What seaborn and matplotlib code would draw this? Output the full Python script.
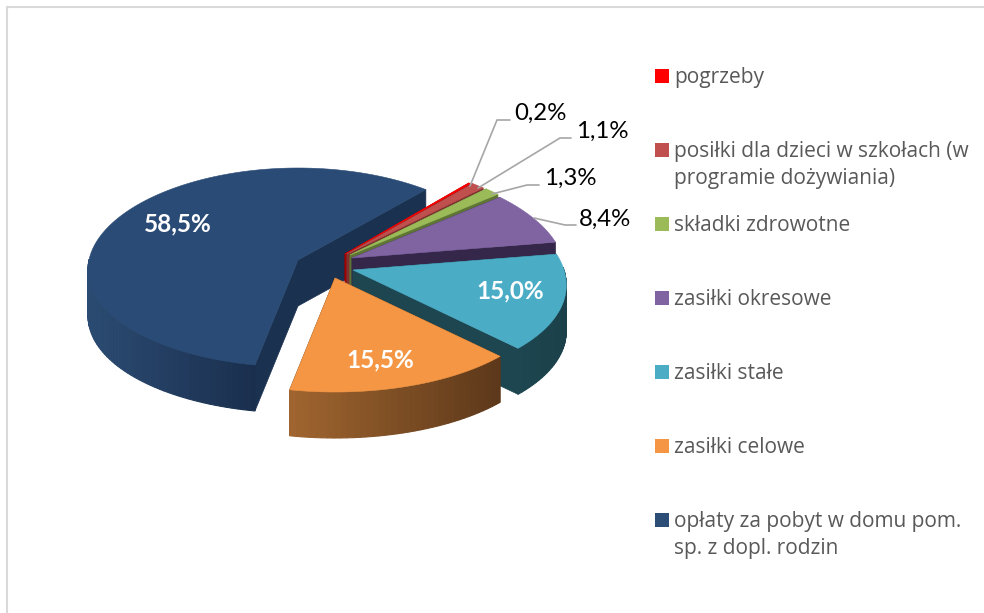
import numpy as np
import matplotlib
matplotlib.use("Agg")
import matplotlib.pyplot as plt
import seaborn as sns

categories = ["pogrzeby", "posiłki dla dzieci w szkołach (w\nprogramie dożywiania)",
              "składki zdrowotne", "zasiłki okresowe", "zasiłki stałe",
              "zasiłki celowe", "opłaty za pobyt w domu pom.\nsp. z dopl. rodzin"]
values = [0.2, 1.1, 1.3, 8.4, 15.0, 15.5, 58.5]

top_colors = ["#ff0000", "#c0504d", "#9bbb59", "#8064a2", "#4bacc6", "#f49644", "#2a4b75"]
face_colors = ["#a00000", "#7d3230", "#5f7533", "#35274a", "#1d4650", "#5e3a1b", "#1b3150"]
wall_left = ["#a00000", "#7d3230", "#5f7533", "#35274a", "#1d4650", "#a0652f", "#2b4b72"]
wall_right = ["#a00000", "#7d3230", "#5f7533", "#35274a", "#1b4049", "#5c381a", "#1a2f4e"]
apex_x = [345, 347, 350, 352, 353, 335, 298]
apex_y = [254, 254, 255, 258, 270, 278, 260]
radius_x = [211, 211, 211, 211, 211, 211, 209]
persp_x = [0.15, 0.15, 0.15, 0.15, 0.15, 0.15, 0.10]
radius_y = [103, 103, 103, 103, 103, 103, 99.5]
persp_y = [11, 11, 11, 11, 11, 11, 7.5]
paint_order = [6, 0, 1, 2, 3, 4, 5]

START_ANGLE = 48.6
DEPTH = 46.0

sns.set_theme(style="white")
plt.rcParams["font.family"] = ["Lato", "DejaVu Sans"]

fig = plt.figure(figsize=(9.84, 6.13), dpi=100)
ax = fig.add_axes([0, 0, 1, 1])
ax.set_xlim(0, 984)
ax.set_ylim(613, 0)
ax.axis("off")


def project(i, deg):
    """Perspective projection of a rim point of slice i, relative to its apex."""
    t = np.radians(deg)
    x, y = np.cos(t), np.sin(t)
    return (apex_x[i] + radius_x[i] * x * (1 - persp_x[i] * y),
            apex_y[i] - (radius_y[i] * y - persp_y[i] * y * y))


def mix(c1, c2, f):
    a, b = np.array(matplotlib.colors.to_rgb(c1)), np.array(matplotlib.colors.to_rgb(c2))
    return tuple(a + (b - a) * f)


ends = START_ANGLE - np.cumsum(values) * 3.6
starts = np.r_[START_ANGLE, ends[:-1]]

for z, i in enumerate(paint_order):
    th1, th2 = starts[i], ends[i]
    cx, cy = apex_x[i], apex_y[i]
    ths = np.linspace(th1, th2, 240)
    rx, ry = project(i, ths)
    z = z + 3

    # radial cut faces
    for end in (0, -1):
        ax.fill([cx, rx[end], rx[end], cx], [cy, ry[end], ry[end] + DEPTH, cy + DEPTH],
                color=face_colors[i], lw=0.5, zorder=z)

    # outer wall with a gradient along x, front-facing part only
    n = max(2, int(abs(th1 - th2) / 1.5))
    seg = np.linspace(th1, th2, n + 1)
    front = np.sin(np.radians(seg)) < 0.03
    sx, sy = project(i, seg)
    xmin, xmax = (87, 253) if i == 6 else (sx.min(), sx.max())
    for k in range(n):
        if not (front[k] and front[k + 1]):
            continue
        f = np.clip(((sx[k] + sx[k + 1]) / 2 - xmin) / max(xmax - xmin, 1), 0, 1)
        ax.fill([sx[k], sx[k + 1], sx[k + 1], sx[k]],
                [sy[k], sy[k + 1], sy[k + 1] + DEPTH, sy[k] + DEPTH],
                color=mix(wall_left[i], wall_right[i], f), lw=0.8, zorder=z)

    # top face
    ax.fill(np.r_[cx, rx], np.r_[cy, ry], color=top_colors[i], lw=0.4, zorder=z + 0.5)


def lab(v):
    return f"{v:.1f}%".replace(".", ",")


white_pos = {4: (510, 291), 5: (380, 360), 6: (178, 224)}
for i, (x, y) in white_pos.items():
    ax.text(x, y, lab(values[i]), color="white", fontsize=17.5, fontweight="bold",
            ha="center", va="center", zorder=20)

black_pos = {0: (540, 113), 1: (602, 131), 2: (570, 178), 3: (605, 219)}
for i, (x, y) in black_pos.items():
    ax.text(x, y, lab(values[i]), color="black", fontsize=17.3,
            ha="center", va="center", zorder=20)

leader_x = [[470, 497, 510], [478, 560, 571], [492, 527, 539], [534, 565, 576]]
leader_y = [[186, 120, 120], [188, 138, 138], [194, 185, 185], [218, 225, 225]]
for lx, ly in zip(leader_x, leader_y):
    ax.plot(lx, ly, color="#a6a6a6", lw=1.2, zorder=15, solid_joinstyle="miter")

for i, name in enumerate(categories):
    y = 76 + 74 * i
    ax.add_patch(plt.Rectangle((655, y - 7), 14, 14, color=top_colors[i] if i != 6 else "#2c4d75", lw=0, zorder=10))
    ax.text(674, y - 9, name, color="#595959", fontsize=15, family="Open Sans",
            ha="left", va="top", linespacing=1.38, zorder=10)

# chart frame: top and left edges only
ax.plot([7, 984], [6.5, 6.5], color="#d9d9d9", lw=1.5, zorder=1)
ax.plot([7, 7], [6.5, 613], color="#d9d9d9", lw=1.5, zorder=1)

fig.savefig("out.png", dpi=100, facecolor="white")
